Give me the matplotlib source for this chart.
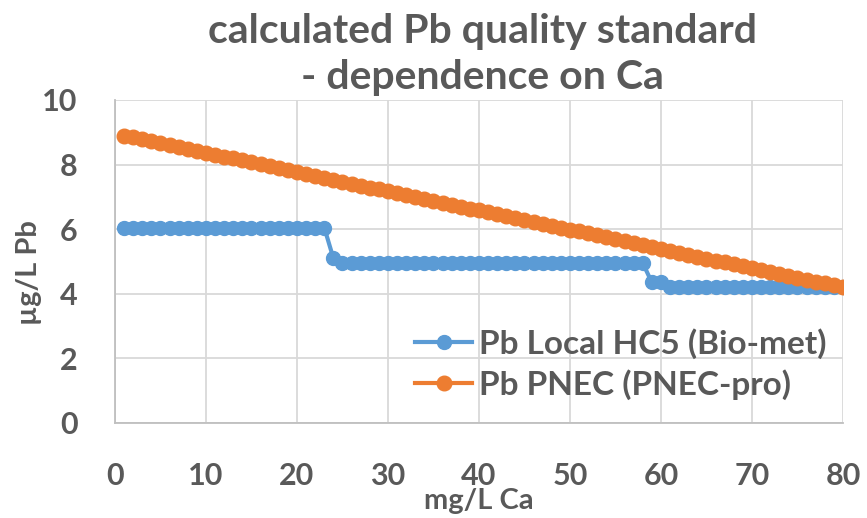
import numpy as np
import matplotlib
matplotlib.use('Agg')
import matplotlib.pyplot as plt

plt.rcParams['font.family'] = ['Lato', 'DejaVu Sans']
plt.rcParams['font.weight'] = 'bold'

# mg/L Ca
ca = np.arange(1, 81)

# Pb Local HC5 (Bio-met)
hc5 = [6.05, 6.05, 6.05, 6.05, 6.05, 6.05, 6.05, 6.05, 6.05, 6.05,
       6.05, 6.05, 6.05, 6.05, 6.05, 6.05, 6.05, 6.05, 6.05, 6.05,
       6.05, 6.05, 6.05, 5.10, 4.95, 4.95, 4.95, 4.95, 4.95, 4.95,
       4.95, 4.95, 4.95, 4.95, 4.95, 4.95, 4.95, 4.95, 4.95, 4.95,
       4.95, 4.95, 4.95, 4.95, 4.95, 4.95, 4.95, 4.95, 4.95, 4.95,
       4.95, 4.95, 4.95, 4.95, 4.95, 4.95, 4.95, 4.95, 4.35, 4.35,
       4.20, 4.20, 4.20, 4.20, 4.20, 4.20, 4.20, 4.20, 4.20, 4.20,
       4.20, 4.20, 4.20, 4.20, 4.20, 4.20, 4.20, 4.20, 4.20, 4.20]

# Pb PNEC (PNEC-pro)
pnec = [8.90, 8.84, 8.78, 8.72, 8.66, 8.60, 8.54, 8.48, 8.42, 8.36,
        8.31, 8.25, 8.19, 8.13, 8.07, 8.01, 7.95, 7.89, 7.83, 7.77,
        7.71, 7.65, 7.59, 7.53, 7.47, 7.41, 7.35, 7.29, 7.23, 7.17,
        7.12, 7.06, 7.00, 6.94, 6.88, 6.82, 6.76, 6.70, 6.64, 6.58,
        6.52, 6.46, 6.40, 6.34, 6.28, 6.22, 6.16, 6.10, 6.04, 5.98,
        5.93, 5.87, 5.81, 5.75, 5.69, 5.63, 5.57, 5.51, 5.45, 5.39,
        5.33, 5.27, 5.21, 5.15, 5.09, 5.03, 4.97, 4.91, 4.85, 4.79,
        4.74, 4.68, 4.62, 4.56, 4.50, 4.44, 4.38, 4.32, 4.26, 4.20]

text_col = '#595959'
grid_col = '#D9D9D9'

fig = plt.figure(figsize=(8.67, 5.18), dpi=100)
ax = fig.add_axes([0.1326, 0.1834, 0.8397, 0.6236])

ax.plot(ca, hc5, color='#5B9BD5', lw=3, marker='o', ms=10,
        label='Pb Local HC5 (Bio-met)', zorder=3)
ax.plot(ca, pnec, color='#ED7D31', lw=3, marker='o', ms=10.5,
        label='Pb PNEC (PNEC-pro)', zorder=4)

ax.set_xlim(0, 80)
ax.set_ylim(0, 10)
ax.set_xticks(range(0, 81, 10))
ax.set_yticks(range(0, 11, 2))
ax.grid(True, color=grid_col, lw=1.3)
ax.set_axisbelow(True)
for s in ['top', 'right']:
    ax.spines[s].set_visible(False)
for s in ['left', 'bottom']:
    ax.spines[s].set_color('#BFBFBF')
    ax.spines[s].set_linewidth(1.3)

ax.tick_params(length=0, labelsize=22, colors=text_col)
ax.tick_params(axis='x', pad=28)
ax.tick_params(axis='y', pad=27)

ax.set_xlabel('mg/L Ca', fontsize=21, fontweight='bold', color=text_col,
              labelpad=-1)
ax.set_ylabel('µg/L Pb', fontsize=21, fontweight='bold', color=text_col)
ax.yaxis.set_label_coords(-0.1, 0.465)
fig.suptitle('calculated Pb quality standard\n- dependence on Ca',
             fontsize=29.5, fontweight='bold', color=text_col, x=0.556,
             y=0.975, va='top', linespacing=1.3)

leg = ax.legend(loc='lower right', bbox_to_anchor=(1.0, 0.02), frameon=False,
                fontsize=24, handlelength=1.7, labelspacing=0.3,
                handletextpad=0.2, borderaxespad=0.1)
for t in leg.get_texts():
    t.set_color(text_col)
    t.set_fontweight('bold')

fig.savefig('out.png', dpi=100)
